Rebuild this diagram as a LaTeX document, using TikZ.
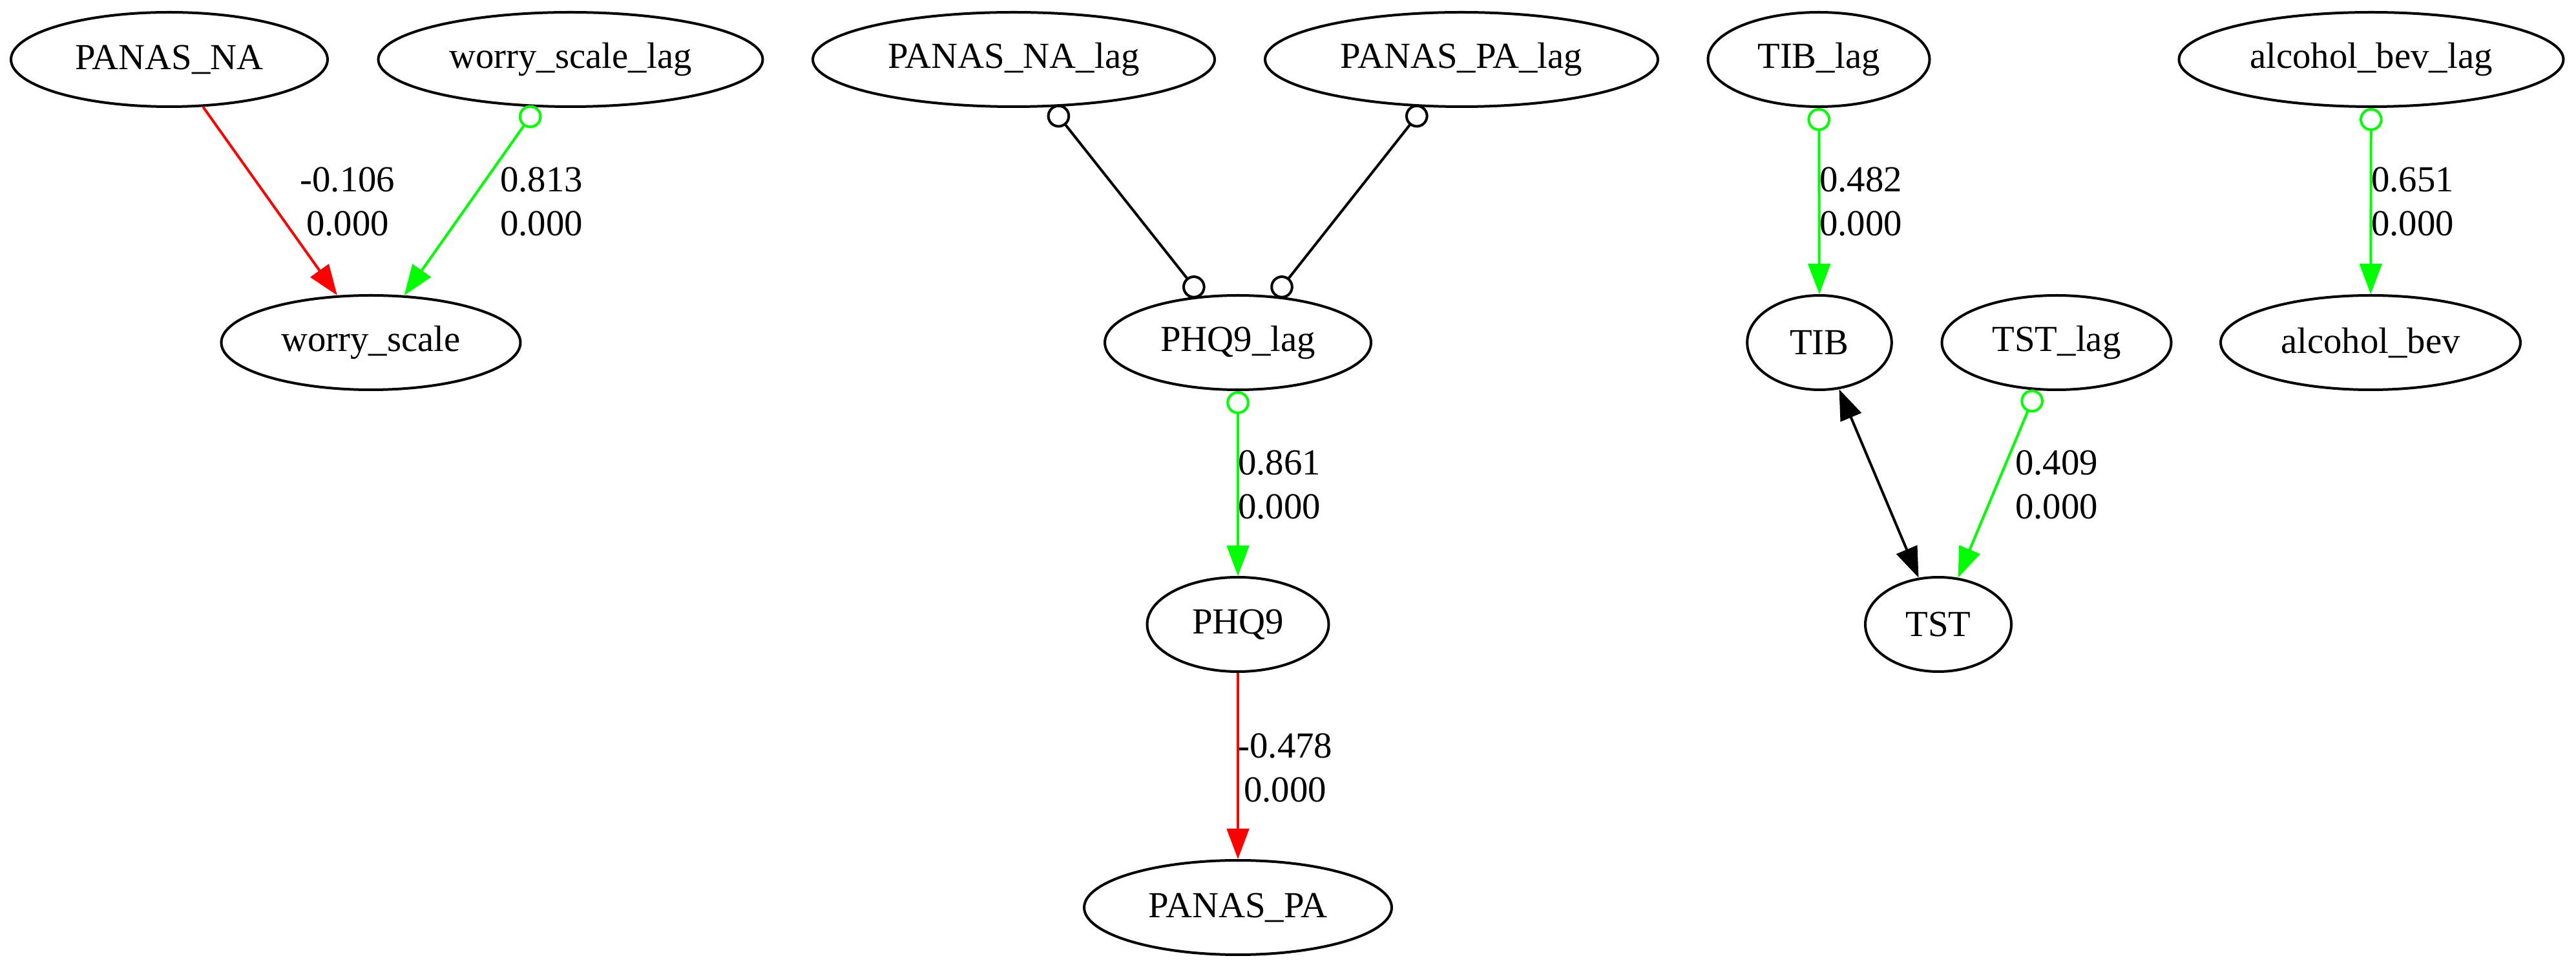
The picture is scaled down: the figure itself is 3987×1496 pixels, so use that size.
\documentclass[tikz,border=0pt]{standalone}
\usepackage{fontspec}
\setmainfont{Liberation Serif}
\usetikzlibrary{shapes.geometric,arrows.meta}
\definecolor{gvgreen}{RGB}{0,255,0}
\definecolor{gvred}{RGB}{255,0,0}
\newcommand\gvfont{\fontsize{14.2}{17}\selectfont}
\tikzset{
  gvnode/.style={ellipse, draw, line width=1pt, inner sep=0pt, minimum height=36.5pt, font=\gvfont},
  gvedge/.style={line width=1pt},
  lab/.style={align=center, inner sep=0pt, font=\gvfont},
  gvtri/.tip={Triangle[length=11.8pt,width=8.6pt]},
  gvo/.tip={Circle[open,length=8.9pt,width=8.9pt]},
}
\begin{document}
\begin{tikzpicture}[x=0.25pt,y=-0.25pt]
\useasboundingbox (0,0) rectangle (3987,1496);
% rank 1
\node[gvnode, minimum width=122.5pt] (PANAS_NA) at (262,92) {PANAS\_NA};
\node[gvnode, minimum width=148.75pt] (worry_scale_lag) at (883,92) {worry\_scale\_lag};
\node[gvnode, minimum width=155.5pt] (PANAS_NA_lag) at (1569,92) {PANAS\_NA\_lag};
\node[gvnode, minimum width=152pt] (PANAS_PA_lag) at (2262,92) {PANAS\_PA\_lag};
\node[gvnode, minimum width=85.75pt] (TIB_lag) at (2815,92) {TIB\_lag};
\node[gvnode, minimum width=148.75pt] (alcohol_bev_lag) at (3670,92) {alcohol\_bev\_lag};
% rank 2
\node[gvnode, minimum width=115.75pt] (worry_scale) at (574,530) {worry\_scale};
\node[gvnode, minimum width=103pt] (PHQ9_lag) at (1916,530) {PHQ9\_lag};
\node[gvnode, minimum width=55.9pt] (TIB) at (2816,530) {TIB};
\node[gvnode, minimum width=88.75pt] (TST_lag) at (3183,530) {TST\_lag};
\node[gvnode, minimum width=116pt] (alcohol_bev) at (3669,530) {alcohol\_bev};
% rank 3
\node[gvnode, minimum width=70.25pt] (PHQ9) at (1916,966) {PHQ9};
\node[gvnode, minimum width=56.5pt] (TST) at (3000,966) {TST};
% rank 4
\node[gvnode, minimum width=119pt] (PANAS_PA) at (1916,1404) {PANAS\_PA};
% edges
\draw[gvedge, gvred, -gvtri] (PANAS_NA) -- (worry_scale);
\draw[gvedge, gvgreen, gvo-gvtri] (worry_scale_lag) -- (worry_scale);
\draw[gvedge, gvo-gvo] (PANAS_NA_lag) -- (PHQ9_lag);
\draw[gvedge, gvo-gvo] (PANAS_PA_lag) -- (PHQ9_lag);
\draw[gvedge, gvgreen, gvo-gvtri] (PHQ9_lag) -- (PHQ9);
\draw[gvedge, gvred, -gvtri] (PHQ9) -- (PANAS_PA);
\draw[gvedge, gvgreen, gvo-gvtri] (TIB_lag) -- (TIB);
\draw[gvedge, gvgreen, gvo-gvtri] (alcohol_bev_lag) -- (alcohol_bev);
\draw[gvedge, gvtri-gvtri] (TIB) -- (TST);
\draw[gvedge, gvgreen, gvo-gvtri] (TST_lag) -- (TST);
% labels
\node[lab] (l1) at (538,312) {-0.106\\0.000};
\node[lab] (l2) at (838,312) {0.813\\0.000};
\node[lab] (l3) at (1980,750) {0.861\\0.000};
\node[lab] (l4) at (1989,1188) {-0.478\\0.000};
\node[lab] (l5) at (2880,312) {0.482\\0.000};
\node[lab] (l6) at (3734,312) {0.651\\0.000};
\node[lab] (l7) at (3183,750) {0.409\\0.000};
\end{tikzpicture}
\end{document}
